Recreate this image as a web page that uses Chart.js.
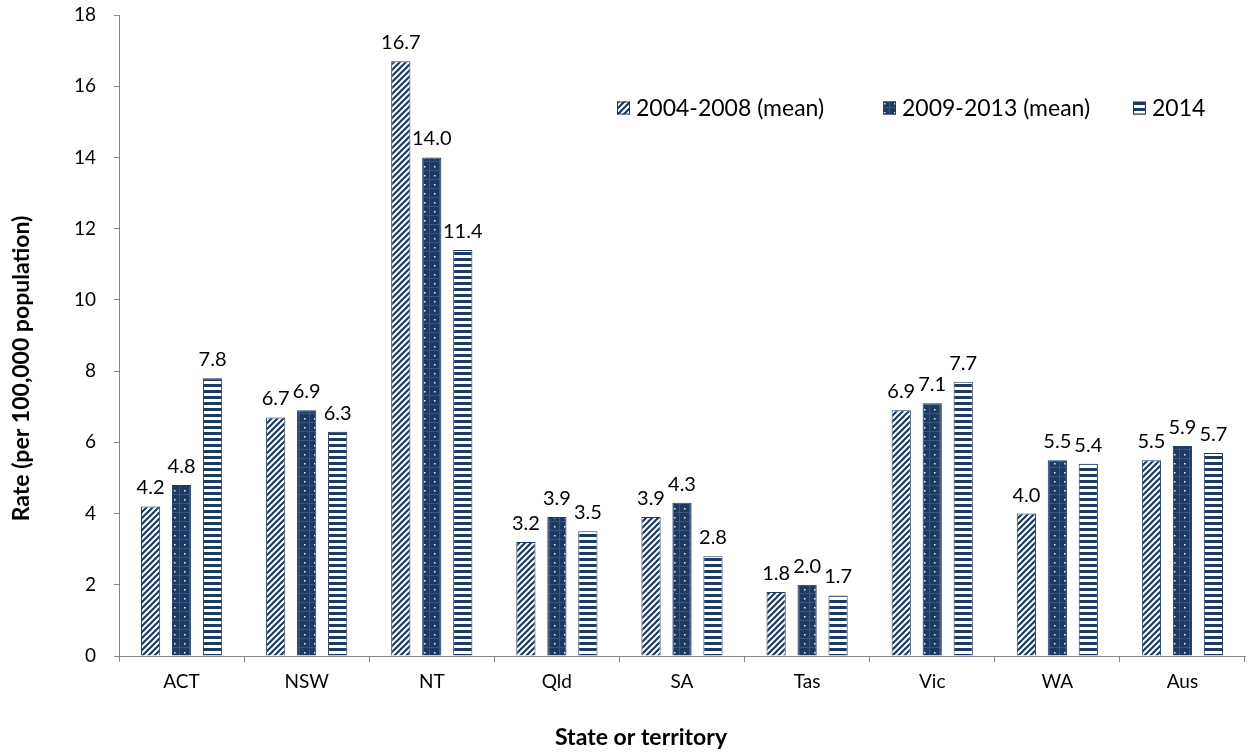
<!DOCTYPE html>
<html>
<head>
<meta charset="utf-8">
<script src="https://cdn.jsdelivr.net/npm/chart.js@4.4.1/dist/chart.umd.min.js"></script>
<style>
  html, body { margin: 0; padding: 0; background: #ffffff; }
  #wrap { width: 1248px; height: 753px; }
</style>
</head>
<body>
<div id="wrap"><canvas id="chart" width="1248" height="753"></canvas></div>
<script>
// Rate per 100,000 population by state or territory
const categories = ['ACT', 'NSW', 'NT', 'Qld', 'SA', 'Tas', 'Vic', 'WA', 'Aus'];
const seriesNames = ['2004-2008 (mean)', '2009-2013 (mean)', '2014'];
const mean2004to2008 = [4.2, 6.7, 16.7, 3.2, 3.9, 1.8, 6.9, 4.0, 5.5];
const mean2009to2013 = [4.8, 6.9, 14.0, 3.9, 4.3, 2.0, 7.1, 5.5, 5.9];
const year2014 = [7.8, 6.3, 11.4, 3.5, 2.8, 1.7, 7.7, 5.4, 5.7];
const yTicks = [0, 2, 4, 6, 8, 10, 12, 14, 16, 18];
const xTitle = 'State or territory';
const yTitle = 'Rate (per 100,000 population)';

const NAVY = '#1d3a63';
const AXIS = '#868686';
const FONT = 'Lato, "DejaVu Sans", sans-serif';

// Fill patterns for the three series
function makeTile(w, h, draw) {
  const c = document.createElement('canvas');
  c.width = w; c.height = h;
  const g = c.getContext('2d');
  draw(g, w, h);
  return document.getElementById('chart').getContext('2d').createPattern(c, 'repeat');
}
const diagonalFill = makeTile(6, 6, (g, w, h) => {
  g.fillStyle = '#ffffff'; g.fillRect(0, 0, w, h);
  g.strokeStyle = NAVY; g.lineWidth = 2.2;
  g.beginPath();
  for (let k = -1; k <= 1; k++) {
    g.moveTo(k * w - 1, h + 1);
    g.lineTo(k * w + w + 1, -1);
  }
  g.stroke();
});
const dottedFill = makeTile(10, 9, (g, w, h) => {
  g.fillStyle = NAVY; g.fillRect(0, 0, w, h);
  g.fillStyle = '#3a5580';
  g.fillRect(0, h - 1, w, 1);
  g.fillRect(w - 1, 0, 1, h);
  g.fillStyle = '#e8eef8';
  g.fillRect(4, 4, 1.5, 1.5);
});
const stripedFill = makeTile(6, 6, (g, w, h) => {
  g.fillStyle = '#ffffff'; g.fillRect(0, 0, w, h);
  g.fillStyle = NAVY; g.fillRect(0, 0, w, 3);
});
const fills = [diagonalFill, dottedFill, stripedFill];

const seriesValues = [mean2004to2008, mean2009to2013, year2014];
const datasets = seriesValues.map((vals, i) => ({
  label: seriesNames[i],
  data: vals,
  backgroundColor: fills[i],
  borderColor: NAVY,
  borderWidth: 1,
  categoryPercentage: 0.743,
  barPercentage: 0.62
}));

// Value labels above each bar
const valueLabels = {
  id: 'valueLabels',
  afterDatasetsDraw(chart) {
    const ctx = chart.ctx;
    ctx.save();
    ctx.font = '20px ' + FONT;
    ctx.fillStyle = '#000000';
    ctx.textAlign = 'center';
    ctx.textBaseline = 'alphabetic';
    chart.data.datasets.forEach((ds, di) => {
      chart.getDatasetMeta(di).data.forEach((bar, idx) => {
        ctx.fillText(ds.data[idx].toFixed(1), bar.x, bar.y - 12);
      });
    });
    ctx.restore();
  }
};

// Legend drawn inside the plot area, upper right
const insideLegend = {
  id: 'insideLegend',
  afterDraw(chart) {
    const ctx = chart.ctx;
    const area = chart.chartArea;
    const box = 13;
    const boxOffsets = [498, 764, 1014];
    const cy = area.top + 93;
    ctx.save();
    ctx.font = '23px ' + FONT;
    ctx.textBaseline = 'middle';
    ctx.textAlign = 'left';
    chart.data.datasets.forEach((ds, i) => {
      const x = area.left + boxOffsets[i];
      ctx.fillStyle = ds.backgroundColor;
      ctx.fillRect(x, cy - box / 2, box, box);
      ctx.strokeStyle = NAVY;
      ctx.lineWidth = 1;
      ctx.strokeRect(x + 0.5, cy - box / 2 + 0.5, box - 1, box - 1);
      ctx.fillStyle = '#000000';
      ctx.fillText(ds.label, x + box + 6, cy + 1);
    });
    ctx.restore();
  }
};

// Axis titles, placed relative to the whole canvas
const axisTitles = {
  id: 'axisTitles',
  afterDraw(chart) {
    const ctx = chart.ctx;
    ctx.save();
    ctx.font = 'bold 23px ' + FONT;
    ctx.fillStyle = '#000000';
    ctx.textAlign = 'center';
    ctx.textBaseline = 'middle';
    ctx.fillText(xTitle, chart.width / 2 + 17, chart.height - 15);
    ctx.translate(22, chart.height / 2 - 8);
    ctx.rotate(-Math.PI / 2);
    ctx.fillText(yTitle, 0, 0);
    ctx.restore();
  }
};

new Chart(document.getElementById('chart'), {
  type: 'bar',
  data: { labels: categories, datasets },
  plugins: [valueLabels, insideLegend, axisTitles],
  options: {
    responsive: false,
    animation: false,
    layout: { padding: { top: 15, right: 3, left: 0, bottom: 0 } },
    plugins: {
      legend: { display: false },
      tooltip: { enabled: false }
    },
    scales: {
      x: {
        grid: {
          display: true,
          offset: true,
          drawOnChartArea: false,
          drawTicks: true,
          tickLength: 6,
          color: AXIS
        },
        border: { display: true, color: AXIS, width: 1 },
        ticks: {
          color: '#000000',
          font: { family: FONT, size: 19 },
          padding: 8
        },
        afterFit(scale) { scale.height = 97; }
      },
      y: {
        min: 0,
        max: 18,
        afterBuildTicks(scale) { scale.ticks = yTicks.map(v => ({ value: v })); },
        grid: {
          display: true,
          drawOnChartArea: false,
          drawTicks: true,
          tickLength: 5,
          color: AXIS
        },
        border: { display: true, color: AXIS, width: 1 },
        ticks: {
          color: '#000000',
          font: { family: FONT, size: 19 },
          padding: 18
        },
        afterFit(scale) {
          scale.width = 119;
          scale.paddingTop = 0;
          scale.paddingBottom = 0;
        }
      }
    }
  }
});
</script>
</body>
</html>
